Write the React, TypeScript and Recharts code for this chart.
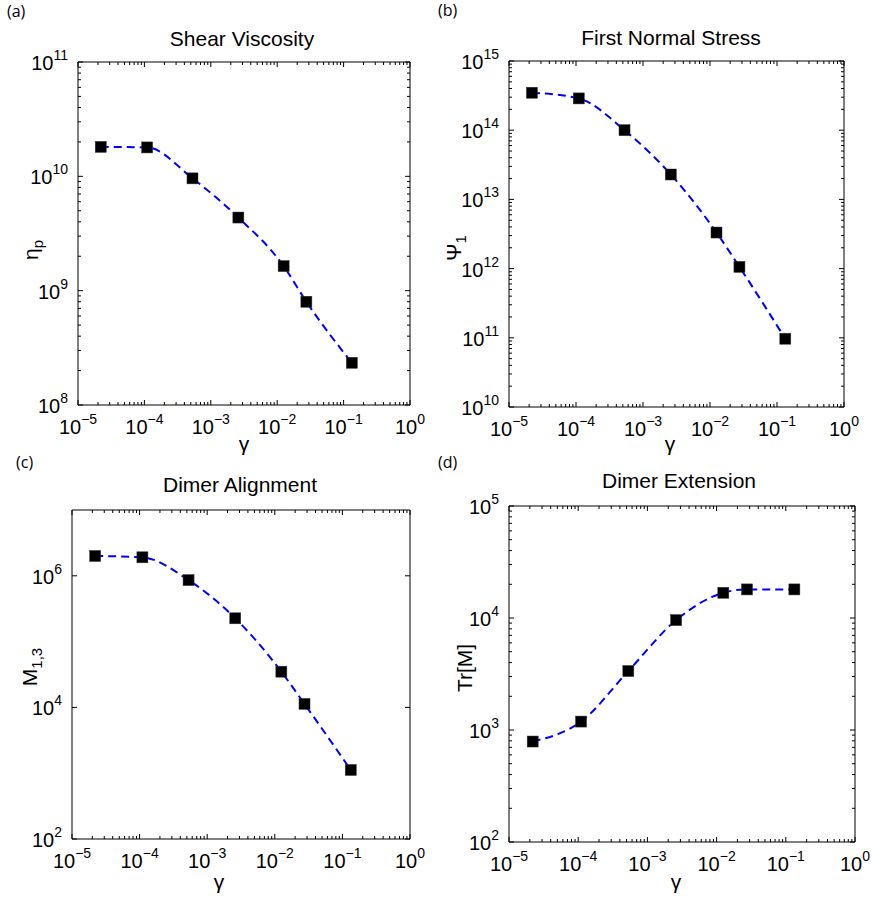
import React from "react";
import { LineChart, Line, XAxis, YAxis } from "recharts";

// shear rate (gamma) of the seven runs, shared by all panels
const shearRate = [2.2e-5, 1.1e-4, 5.3e-4, 2.6e-3, 1.25e-2, 2.75e-2, 1.33e-1];

const viscosity = [1.81e10, 1.79e10, 9.6e9, 4.36e9, 1.64e9, 8.0e8, 2.34e8];
const normalStress = [3.48e14, 2.88e14, 1.0e14, 2.29e13, 3.32e12, 1.06e12, 9.7e10];
const alignment = [2.0e6, 1.91e6, 8.6e5, 2.26e5, 3.49e4, 1.13e4, 1.12e3];
const extension = [789, 1189, 3363, 9570, 1.68e4, 1.8e4, 1.8e4];

const xDecades = [1e-5, 1e-4, 1e-3, 1e-2, 1e-1, 1];
const etaDecades = [1e8, 1e9, 1e10, 1e11];
const psiDecades = [1e10, 1e11, 1e12, 1e13, 1e14, 1e15];
const alignTicks = [1e2, 1e4, 1e6];
const extDecades = [1e2, 1e3, 1e4, 1e5];

const FONT = "'Liberation Sans', Arial, sans-serif";

// decade ticks plus the 2..9 minor ticks between them
function withMinors(decades: number[]) {
  const out: number[] = [];
  decades.forEach((d, i) => {
    out.push(d);
    if (i < decades.length - 1) {
      for (let k = 2; k <= 9; k++) out.push(d * k);
    }
  });
  return out;
}

function isMajor(v: number) {
  const l = Math.log10(v);
  return Math.abs(l - Math.round(l)) < 1e-6;
}

function expText(v: number) {
  const e = Math.round(Math.log10(v));
  return e < 0 ? "\u2212" + Math.abs(e) : String(e);
}

function LogTick(props: any) {
  const { x, y, payload, side, label } = props;
  const v = payload.value;
  const major = isMajor(v);
  const len = major ? 5 : 3;
  let line;
  if (side === "bottom") line = <line x1={x} y1={y} x2={x} y2={y - len} stroke="#000" />;
  else if (side === "top") line = <line x1={x} y1={y} x2={x} y2={y + len} stroke="#000" />;
  else if (side === "left") line = <line x1={x} y1={y} x2={x + len} y2={y} stroke="#000" />;
  else line = <line x1={x} y1={y} x2={x - len} y2={y} stroke="#000" />;

  let text = null;
  if (label && major) {
    if (side === "bottom") {
      text = (
        <text x={x} y={y + 29} textAnchor="middle" fontSize={20} fontFamily={FONT} fill="#000">
          10<tspan dy={-10} fontSize={14}>{expText(v)}</tspan>
        </text>
      );
    } else {
      text = (
        <text x={x - 10} y={y + 8} textAnchor="end" fontSize={20} fontFamily={FONT} fill="#000">
          10<tspan dy={-10} fontSize={14}>{expText(v)}</tspan>
        </text>
      );
    }
  }
  return (
    <g>
      {line}
      {text}
    </g>
  );
}

function Square(props: any) {
  const { cx, cy, index } = props;
  if (cx == null || cy == null) return <g key={index} />;
  return <rect key={index} x={cx - 5.5} y={cy - 5.5} width={11} height={11} fill="#000" stroke="#333" strokeWidth={0.5} />;
}

type PanelProps = {
  left: number;
  top: number;
  width: number;
  height: number;
  margin: { top: number; left: number; right: number; bottom: number };
  values: number[];
  yDomain: [number, number];
  yTicks: number[];
};

function Panel({ left, top, width, height, margin, values, yDomain, yTicks }: PanelProps) {
  const data = shearRate.map((x, i) => ({ x, y: values[i] }));
  const xTicks = withMinors(xDecades);
  return (
    <div style={{ position: "absolute", left, top }}>
      <LineChart width={width} height={height} data={data} margin={margin}>
        <XAxis
          xAxisId="b"
          dataKey="x"
          type="number"
          scale="log"
          domain={[1e-5, 1]}
          allowDataOverflow
          ticks={xTicks}
          interval={0}
          height={30}
          tickSize={0}
          tickMargin={0}
          tickLine={false}
          axisLine={{ stroke: "#000" }}
          tick={(p: any) => <LogTick {...p} side="bottom" label />}
        />
        <XAxis
          xAxisId="t"
          orientation="top"
          dataKey="x"
          type="number"
          scale="log"
          domain={[1e-5, 1]}
          allowDataOverflow
          ticks={xTicks}
          interval={0}
          height={10}
          tickSize={0}
          tickMargin={0}
          tickLine={false}
          axisLine={{ stroke: "#000" }}
          tick={(p: any) => <LogTick {...p} side="top" />}
        />
        <YAxis
          yAxisId="l"
          type="number"
          scale="log"
          domain={yDomain}
          allowDataOverflow
          ticks={yTicks}
          interval={0}
          width={60}
          tickSize={0}
          tickMargin={0}
          tickLine={false}
          axisLine={{ stroke: "#000" }}
          tick={(p: any) => <LogTick {...p} side="left" label />}
        />
        <YAxis
          yAxisId="r"
          orientation="right"
          type="number"
          scale="log"
          domain={yDomain}
          allowDataOverflow
          ticks={yTicks}
          interval={0}
          width={10}
          tickSize={0}
          tickMargin={0}
          tickLine={false}
          axisLine={{ stroke: "#000" }}
          tick={(p: any) => <LogTick {...p} side="right" />}
        />
        <Line
          xAxisId="b"
          yAxisId="l"
          dataKey="y"
          type="monotone"
          stroke="#0000ff"
          strokeWidth={2}
          strokeDasharray="8 5"
          dot={(p: any) => <Square {...p} />}
          activeDot={false}
          isAnimationActive={false}
        />
      </LineChart>
    </div>
  );
}

const txt = (extra: React.CSSProperties): React.CSSProperties => ({
  position: "absolute",
  fontFamily: FONT,
  color: "#000",
  whiteSpace: "nowrap",
  lineHeight: 1,
  ...extra,
});

function Title({ x, y, children }: { x: number; y: number; children: React.ReactNode }) {
  return <div style={txt({ left: x, top: y, fontSize: 21, transform: "translateX(-50%)" })}>{children}</div>;
}

function YLabel({ x, y, children }: { x: number; y: number; children: React.ReactNode }) {
  return (
    <div style={txt({ left: x, top: y, fontSize: 21, transform: "translate(-50%, -50%) rotate(-90deg)" })}>
      {children}
    </div>
  );
}

function Sub({ children }: { children: React.ReactNode }) {
  return <span style={{ fontSize: 15, verticalAlign: -5 }}>{children}</span>;
}

function Tag({ x, y, children }: { x: number; y: number; children: React.ReactNode }) {
  return (
    <div style={txt({ left: x, top: y, fontSize: 16, fontFamily: "'Open Sans', sans-serif" })}>{children}</div>
  );
}

function Gamma({ x, y }: { x: number; y: number }) {
  return <div style={txt({ left: x, top: y, fontSize: 21, transform: "translateX(-50%)" })}>γ</div>;
}

export default function App() {
  return (
    <div style={{ position: "absolute", left: 0, top: 0, width: 872, height: 897, background: "#fff", overflow: "hidden" }}>
      <Panel
        left={0}
        top={0}
        width={436}
        height={440}
        margin={{ top: 52, left: 18, right: 16, bottom: 5 }}
        values={viscosity}
        yDomain={[1e8, 1e11]}
        yTicks={withMinors(etaDecades)}
      />
      <Panel
        left={436}
        top={0}
        width={436}
        height={440}
        margin={{ top: 51, left: 13, right: 18, bottom: 3 }}
        values={normalStress}
        yDomain={[1e10, 1e15]}
        yTicks={withMinors(psiDecades)}
      />
      <Panel
        left={0}
        top={440}
        width={436}
        height={457}
        margin={{ top: 60, left: 12, right: 16, bottom: 28 }}
        values={alignment}
        yDomain={[1e2, 1e7]}
        yTicks={alignTicks}
      />
      <Panel
        left={436}
        top={440}
        width={436}
        height={457}
        margin={{ top: 56, left: 13, right: 7, bottom: 25 }}
        values={extension}
        yDomain={[1e2, 1e5]}
        yTicks={withMinors(extDecades)}
      />

      <Tag x={7} y={3}>(a)</Tag>
      <Tag x={438} y={2}>(b)</Tag>
      <Tag x={16} y={454}>(c)</Tag>
      <Tag x={438} y={454}>(d)</Tag>

      <Title x={242} y={28}>Shear Viscosity</Title>
      <Title x={671} y={27}>First Normal Stress</Title>
      <Title x={240} y={474}>Dimer Alignment</Title>
      <Title x={679} y={470}>Dimer Extension</Title>

      <YLabel x={32} y={250}>
        η<Sub>p</Sub>
      </YLabel>
      <YLabel x={455} y={248}>
        Ψ<Sub>1</Sub>
      </YLabel>
      <YLabel x={31} y={667}>
        M<Sub>1,3</Sub>
      </YLabel>
      <YLabel x={464} y={668}>
        Tr[M]
      </YLabel>

      <Gamma x={244} y={433} />
      <Gamma x={670} y={433} />
      <Gamma x={219} y={871} />
      <Gamma x={676} y={871} />
    </div>
  );
}
